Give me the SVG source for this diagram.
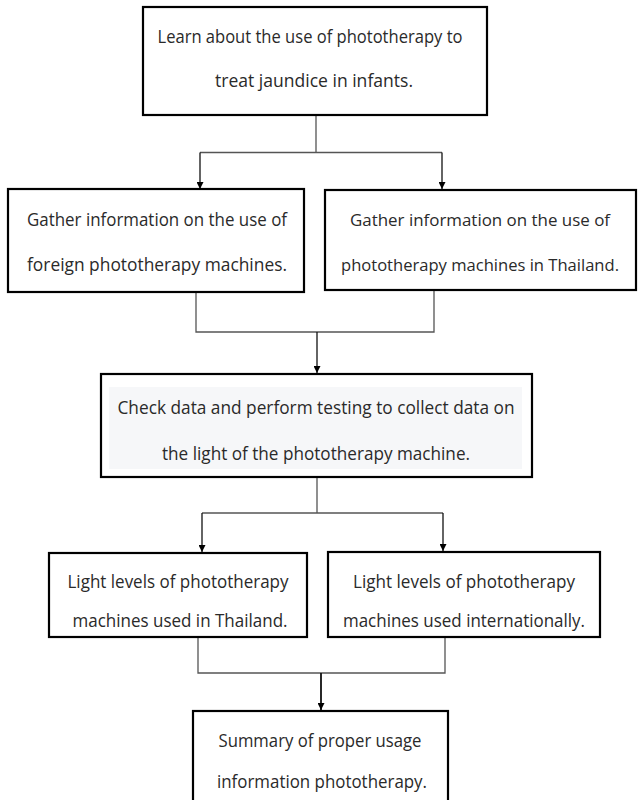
<svg xmlns="http://www.w3.org/2000/svg" width="638" height="800" viewBox="0 0 638 800">
<defs>
<marker id="arr" viewBox="0 0 10 10" refX="10" refY="5" markerWidth="7" markerHeight="7" markerUnits="userSpaceOnUse" orient="auto">
<path d="M0,0 L10,5 L0,10 z" fill="#000"/>
</marker>
<style>
.box{fill:#fff;stroke:#000;stroke-width:2.2}
.t{font-family:"Open Sans","Noto Sans",sans-serif;font-size:19px;fill:#2a2a2a;text-anchor:middle}
.s{font-size:17px}
.c{fill:none;stroke:#555;stroke-width:1.3}
.a{fill:none;stroke:#111;stroke-width:1.3;marker-end:url(#arr)}
</style>
</defs>
<rect width="638" height="800" fill="#fff"/>
<g id="connectors">
<path class="c" d="M316,115 V152.5 M200,152.5 H442"/>
<path class="a" d="M200,152.5 V189"/>
<path class="a" d="M442,152.5 V189"/>
<path class="c" d="M196,292 V332 H434 V290"/>
<path class="a" d="M317,332 V373"/>
<path class="c" d="M317,477 V513 M202,513 H443"/>
<path class="a" d="M202,513 V552"/>
<path class="a" d="M443,513 V551"/>
<path class="c" d="M198,637 V673 H445 V637"/>
<path class="a" d="M321,673 V710" style="stroke-width:1.8"/>
</g>
<g id="n1">
<rect class="box" x="143" y="7" width="344" height="108"/>
<text class="t" x="310" y="43" textLength="305" lengthAdjust="spacingAndGlyphs">Learn about the use of phototherapy to</text>
<text class="t" x="314" y="87" textLength="198" lengthAdjust="spacingAndGlyphs">treat jaundice in infants.</text>
</g>
<g id="n2">
<rect class="box" x="8" y="189" width="296" height="103"/>
<text class="t" x="157" y="226" textLength="260" lengthAdjust="spacingAndGlyphs">Gather information on the use of</text>
<text class="t" x="157" y="271" textLength="260" lengthAdjust="spacingAndGlyphs">foreign phototherapy machines.</text>
</g>
<g id="n3">
<rect class="box" x="325" y="190" width="311" height="100"/>
<text class="t s" x="480" y="226" textLength="260" lengthAdjust="spacingAndGlyphs">Gather information on the use of</text>
<text class="t s" x="480" y="271" textLength="278" lengthAdjust="spacingAndGlyphs">phototherapy machines in Thailand.</text>
</g>
<g id="n4">
<rect class="box" x="101" y="374" width="431" height="103"/>
<rect x="109" y="387" width="413" height="82" fill="#f6f7f9"/>
<text class="t" x="316" y="414" textLength="397" lengthAdjust="spacingAndGlyphs">Check data and perform testing to collect data on</text>
<text class="t" x="316" y="460" textLength="308" lengthAdjust="spacingAndGlyphs">the light of the phototherapy machine.</text>
</g>
<g id="n5">
<rect class="box" x="49" y="553" width="258" height="84"/>
<text class="t" x="178" y="588" textLength="221" lengthAdjust="spacingAndGlyphs">Light levels of phototherapy</text>
<text class="t" x="180" y="627" textLength="215" lengthAdjust="spacingAndGlyphs">machines used in Thailand.</text>
</g>
<g id="n6">
<rect class="box" x="328" y="552" width="272" height="85"/>
<text class="t" x="464" y="588" textLength="222" lengthAdjust="spacingAndGlyphs">Light levels of phototherapy</text>
<text class="t" x="464" y="627" textLength="242" lengthAdjust="spacingAndGlyphs">machines used internationally.</text>
</g>
<g id="n7">
<rect class="box" x="193" y="711" width="255" height="95"/>
<text class="t" x="320" y="747" textLength="203" lengthAdjust="spacingAndGlyphs">Summary of proper usage</text>
<text class="t" x="322" y="788" textLength="210" lengthAdjust="spacingAndGlyphs">information phototherapy.</text>
</g>
</svg>
